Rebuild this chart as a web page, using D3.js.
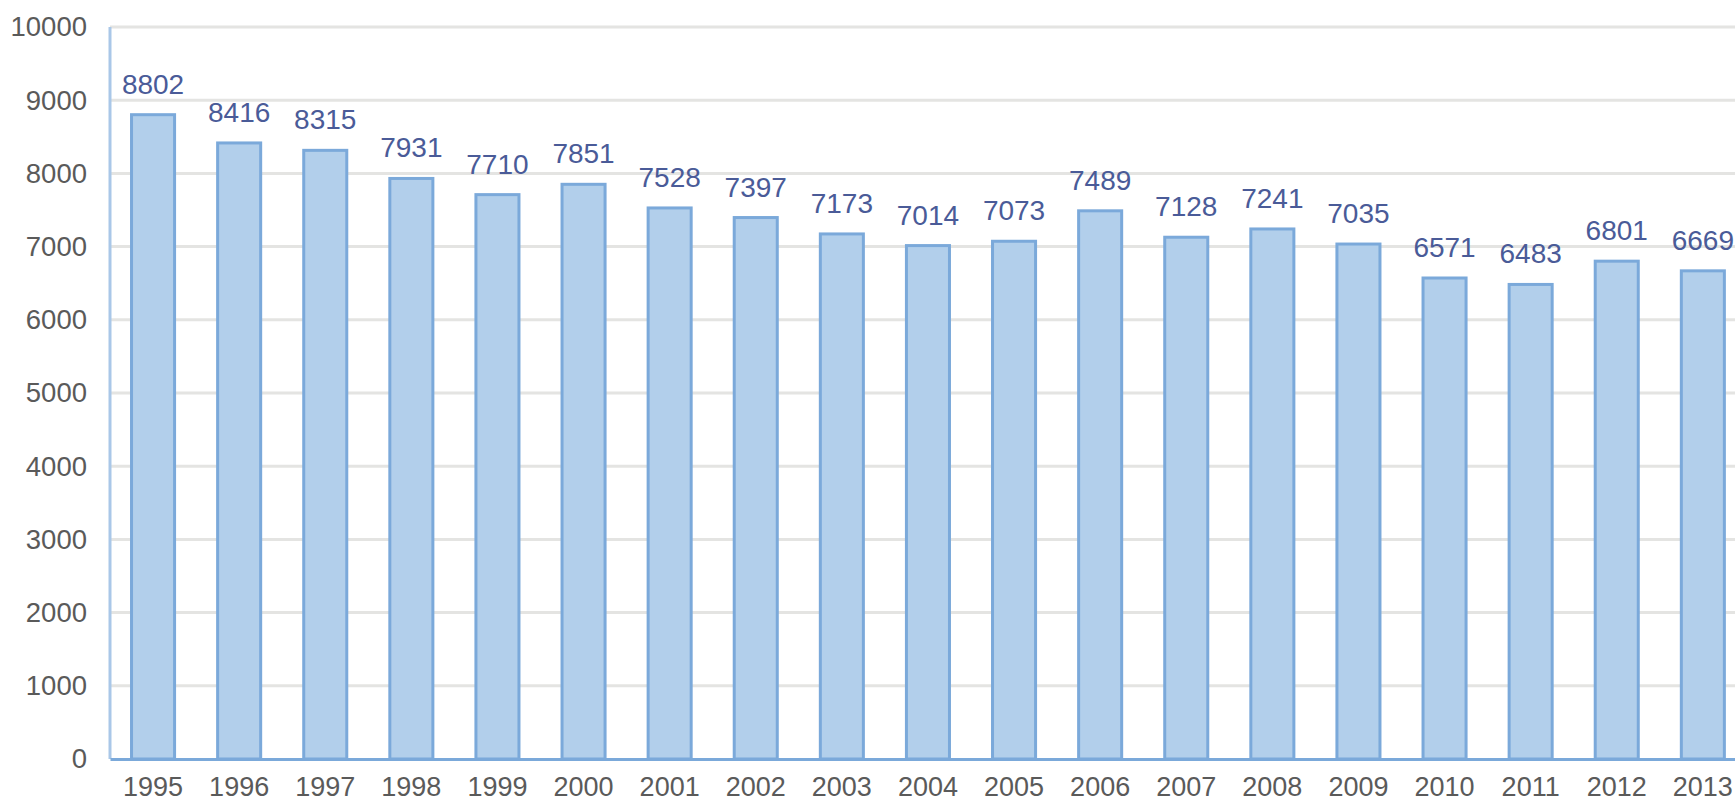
<!DOCTYPE html>
<html lang="en">
<head>
    <meta charset="UTF-8">
    <title>Bar chart 1995-2013</title>
    <script src="https://d3js.org/d3.v7.min.js"></script>
    <style>
        body, html {
            margin: 0;
            padding: 0;
            background: #fff;
            overflow: hidden;
        }
        #chart {
            width: 1735px;
            height: 803px;
        }
        text {
            font-family: "Liberation Sans", Arial, sans-serif;
        }
    </style>
</head>
<body>
    <div id="chart"></div>
    <script>
        const years = ["1995", "1996", "1997", "1998", "1999", "2000", "2001", "2002", "2003", "2004",
                       "2005", "2006", "2007", "2008", "2009", "2010", "2011", "2012", "2013"];
        const values = [8802, 8416, 8315, 7931, 7710, 7851, 7528, 7397, 7173, 7014,
                        7073, 7489, 7128, 7241, 7035, 6571, 6483, 6801, 6669];
        const yTicks = [0, 1000, 2000, 3000, 4000, 5000, 6000, 7000, 8000, 9000, 10000];

        const width = 1735;
        const height = 803;
        const plotLeft = 110, plotTop = 27, plotBottom = 759;
        const step = 86.1;

        const svg = d3.select("#chart")
            .append("svg")
            .attr("width", width)
            .attr("height", height);

        const x = d3.scaleBand()
            .domain(years)
            .range([plotLeft, plotLeft + step * years.length])
            .paddingInner(0.5)
            .paddingOuter(0.25);

        const y = d3.scaleLinear()
            .domain([0, 10000])
            .range([plotBottom, plotTop]);

        // gridlines
        svg.append("g")
            .selectAll("line")
            .data(yTicks.filter(d => d > 0))
            .enter().append("line")
            .attr("x1", plotLeft)
            .attr("x2", width)
            .attr("y1", d => y(d))
            .attr("y2", d => y(d))
            .attr("stroke", "#e4e4e2")
            .attr("stroke-width", 3);

        // y axis labels
        const yAxis = svg.append("g")
            .attr("transform", `translate(${plotLeft},0)`)
            .call(d3.axisLeft(y).tickValues(yTicks).tickSize(0).tickPadding(23).tickFormat(d3.format("d")));
        yAxis.select(".domain").remove();
        yAxis.selectAll("text")
            .attr("fill", "#5a5a5a")
            .style("font-size", "27.5px");

        // bars
        svg.append("g")
            .selectAll("rect")
            .data(values)
            .enter().append("rect")
            .attr("x", (d, i) => x(years[i]))
            .attr("y", d => y(d))
            .attr("width", x.bandwidth())
            .attr("height", d => plotBottom - y(d))
            .attr("fill", "#b2cfeb")
            .attr("stroke", "#7ba9da")
            .attr("stroke-width", 3);

        // value labels
        svg.append("g")
            .selectAll("text")
            .data(values)
            .enter().append("text")
            .attr("x", (d, i) => x(years[i]) + x.bandwidth() / 2)
            .attr("y", d => y(d) - 21)
            .attr("text-anchor", "middle")
            .attr("fill", "#4a5b98")
            .style("font-size", "28px")
            .text(d => d);

        // left axis line
        svg.append("line")
            .attr("x1", plotLeft).attr("x2", plotLeft)
            .attr("y1", plotTop).attr("y2", plotBottom)
            .attr("stroke", "#a9c7e8")
            .attr("stroke-width", 3);

        // x axis
        const xAxis = svg.append("g")
            .attr("transform", `translate(0,${plotBottom})`)
            .call(d3.axisBottom(x).tickSize(0).tickPadding(18));
        xAxis.select(".domain")
            .attr("stroke", "#7ba9da")
            .attr("stroke-width", 3);
        xAxis.selectAll("text")
            .attr("fill", "#5a5a5a")
            .style("font-size", "27px");
    </script>
</body>
</html>
